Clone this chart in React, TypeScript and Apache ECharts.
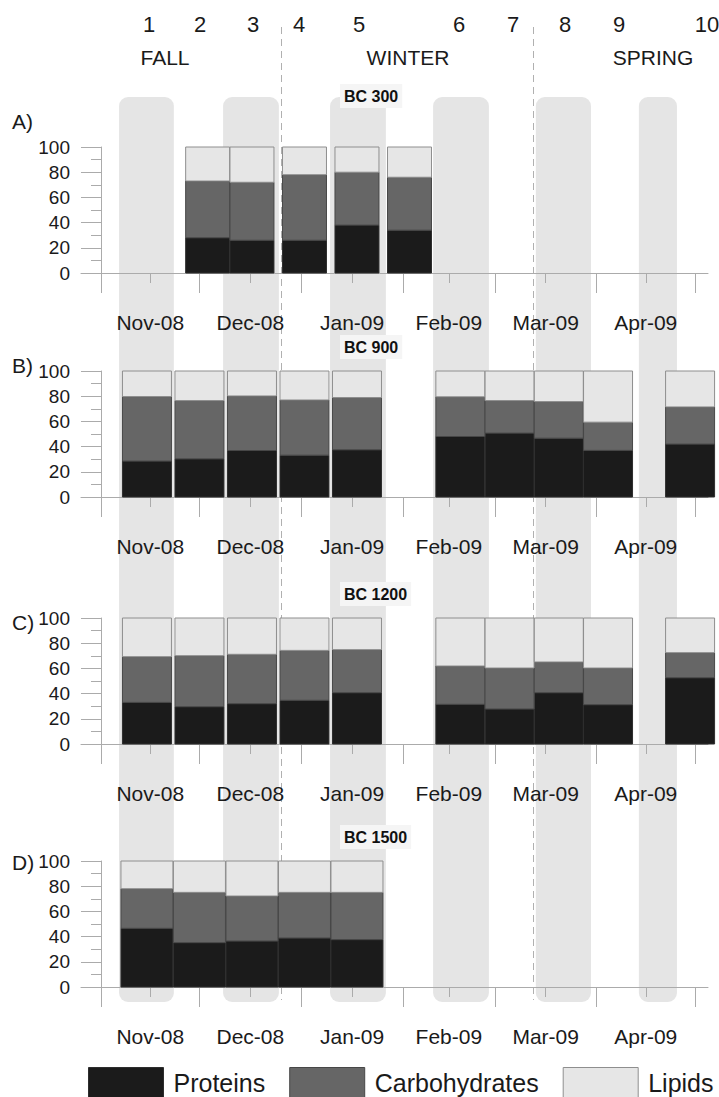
import { useEffect, useRef } from 'react';
import * as echarts from 'echarts';

const FONT = '"Liberation Sans", Arial, Helvetica, sans-serif';

// Sampling days, counted from 1 Nov 2008
const daysBC300 = [32.5, 46, 62, 78, 94];
const daysFull = [14, 30, 46, 62, 78, 109.5, 124.5, 139.5, 154.5, 179.5];
const daysEarly = [14, 30, 46, 62, 78];

// Biochemical composition (% of total)
const bc300Proteins = [28, 26, 26, 38, 34];
const bc300Carbohydrates = [45, 46, 52, 42, 42];
const bc300Lipids = [27, 28, 22, 20, 24];

const bc900Proteins = [28.5, 30.3, 36.9, 33.2, 37.5, 48.0, 50.7, 46.7, 37.0, 42.0];
const bc900Carbohydrates = [51.2, 46.2, 43.3, 43.8, 41.4, 31.5, 25.8, 29.0, 22.4, 29.5];
const bc900Lipids = [20.3, 23.5, 19.8, 23.0, 21.1, 20.5, 23.5, 24.3, 40.6, 28.5];

const bc1200Proteins = [33.0, 29.6, 32.0, 34.7, 40.7, 31.5, 27.8, 40.7, 31.2, 52.6];
const bc1200Carbohydrates = [36.3, 40.5, 39.2, 39.6, 34.2, 30.4, 32.5, 24.4, 29.1, 19.9];
const bc1200Lipids = [30.7, 29.9, 28.8, 25.7, 25.1, 38.1, 39.7, 34.9, 39.7, 27.5];

const bc1500Proteins = [46.6, 35.2, 36.5, 38.9, 37.6];
const bc1500Carbohydrates = [31.4, 39.9, 35.7, 36.2, 37.5];
const bc1500Lipids = [22.0, 24.9, 27.8, 24.9, 24.9];

// Time axis (days from 1 Nov 2008)
const monthStarts = [0, 30, 61, 92, 120, 151, 181];
const monthLabels = ['Nov-08', 'Dec-08', 'Jan-09', 'Feb-09', 'Mar-09', 'Apr-09'];
const sampleNumbers = ['1', '2', '3', '4', '5', '6', '7', '8', '9', '10'];
const seasons = ['FALL', 'WINTER', 'SPRING'];
const shadedPeriods = [
  [5.5, 22.2],
  [37.2, 54.2],
  [69.8, 86.8],
  [101.2, 118.2],
  [132.5, 149.3],
  [163.9, 175.5],
];
const seasonBreaks = [54.8, 131.6];

const monthMids = monthLabels.map((_, i) => (monthStarts[i] + monthStarts[i + 1]) / 2);

const X_MIN = -6.094;
const X_MAX = 184.96;

const components = [
  { name: 'Proteins', color: '#1b1b1b', border: '#2e2e2e' },
  { name: 'Carbohydrates', color: '#666666', border: '#474747' },
  { name: 'Lipids', color: '#e6e6e6', border: '#8e8e8e' },
];

const panels = [
  {
    letter: 'A)', title: 'BC 300', days: daysBC300,
    values: [bc300Proteins, bc300Carbohydrates, bc300Lipids],
    top: 147, titleTop: 84, letterY: 121, barWidth: 44,
  },
  {
    letter: 'B)', title: 'BC 900', days: daysFull,
    values: [bc900Proteins, bc900Carbohydrates, bc900Lipids],
    top: 371, titleTop: 335, letterY: 365, barWidth: 49,
  },
  {
    letter: 'C)', title: 'BC 1200', days: daysFull,
    values: [bc1200Proteins, bc1200Carbohydrates, bc1200Lipids],
    top: 618, titleTop: 582, letterY: 622, barWidth: 49,
  },
  {
    letter: 'D)', title: 'BC 1500', days: daysEarly,
    values: [bc1500Proteins, bc1500Carbohydrates, bc1500Lipids],
    top: 861, titleTop: 825, letterY: 862, barWidth: 52,
  },
];

const AXIS_GRAY = '#ababab';
const TEXT = '#1a1a1a';

// Stacked segment rows: [day, segment bottom, segment top]
function stackedRows(days: number[], values: number[][], k: number) {
  return days.map((d, j) => {
    let base = 0;
    for (let m = 0; m < k; m++) base += values[m][j];
    return [d, base, base + values[k][j]];
  });
}

export default function App() {
  const ref = useRef<HTMLDivElement>(null);

  useEffect(() => {
    document.body.style.margin = '0';
    if (!ref.current) return;
    const chart = echarts.init(ref.current, undefined, { renderer: 'svg' });

    const option: any = {
      animation: false,
      backgroundColor: '#ffffff',
      textStyle: { fontFamily: FONT },
      title: panels.map((p) => ({
        text: p.title,
        left: 340,
        top: p.titleTop,
        padding: [4, 4, 4, 4],
        backgroundColor: '#f5f5f5',
        textStyle: { fontSize: 16, fontWeight: 'bold', color: '#111', fontFamily: FONT },
      })),
      legend: {
        left: 88,
        top: 1067,
        padding: 0,
        itemWidth: 75,
        itemHeight: 30,
        itemGap: 24,
        icon: 'rect',
        selectedMode: false,
        textStyle: { fontSize: 25, color: TEXT, fontFamily: FONT, padding: [0, 0, 0, 5] },
        data: components.map((c) => ({
          name: c.name,
          itemStyle: { color: c.color, borderColor: c.border, borderWidth: 1 },
        })),
      },
      grid: panels.map((p) => ({ left: 81, width: 627, top: p.top, height: 126 })),
      xAxis: panels.flatMap((_, i) => [
        {
          type: 'value', gridIndex: i, min: X_MIN, max: X_MAX, position: 'bottom',
          axisLine: { show: true, lineStyle: { color: AXIS_GRAY, width: 1 } },
          axisTick: { show: true, length: 20, customValues: monthStarts, lineStyle: { color: AXIS_GRAY } },
          axisLabel: { show: false },
          splitLine: { show: false },
        },
        {
          type: 'value', gridIndex: i, min: X_MIN, max: X_MAX, position: 'bottom',
          axisLine: { show: false },
          axisTick: { show: true, length: 10, customValues: monthMids, lineStyle: { color: AXIS_GRAY } },
          axisLabel: {
            show: true,
            customValues: monthMids,
            margin: 39,
            fontSize: 21,
            color: TEXT,
            fontFamily: FONT,
            formatter: (v: number) => {
              const k = monthMids.findIndex((m) => Math.abs(m - v) < 0.01);
              return k >= 0 ? monthLabels[k] : '';
            },
          },
          splitLine: { show: false },
        },
      ]),
      yAxis: panels.map((_, i) => ({
        type: 'value', gridIndex: i, min: 0, max: 100, interval: 20,
        axisLine: { show: true, onZero: true, lineStyle: { color: AXIS_GRAY } },
        axisTick: { show: true, length: 20, lineStyle: { color: AXIS_GRAY } },
        minorTick: { show: true, splitNumber: 2, length: 10, lineStyle: { color: AXIS_GRAY } },
        axisLabel: { margin: 11, fontSize: 19, color: TEXT, fontFamily: FONT },
        splitLine: { show: false },
        minorSplitLine: { show: false },
      })),
      series: panels.flatMap((p, i) =>
        components.map((c, k) => ({
          type: 'custom',
          name: c.name,
          xAxisIndex: 2 * i,
          yAxisIndex: i,
          clip: false,
          silent: true,
          encode: { x: 0, y: [1, 2] },
          itemStyle: { color: c.color, borderColor: c.border, borderWidth: 1 },
          data: stackedRows(p.days, p.values, k),
          renderItem: (_params: any, api: any) => {
            const day = api.value(0);
            const lo = api.coord([day, api.value(1)]);
            const hi = api.coord([day, api.value(2)]);
            const w = p.barWidth;
            return {
              type: 'rect',
              shape: { x: lo[0] - w / 2, y: hi[1], width: w, height: lo[1] - hi[1] },
              style: { fill: c.color, stroke: c.border, lineWidth: 1 },
            };
          },
        }))
      ),
    };

    chart.setOption(option);

    const px = (d: number) => chart.convertToPixel({ xAxisIndex: 0 }, d) as number;

    const graphics: any[] = [];
    shadedPeriods.forEach(([a, b]) => {
      const x0 = px(a);
      const x1 = px(b);
      graphics.push({
        type: 'rect',
        z: -20,
        shape: { x: x0, y: 97, width: x1 - x0, height: 905, r: 9 },
        style: { fill: '#e5e5e5' },
        silent: true,
      });
    });
    seasonBreaks.forEach((d) => {
      const x = Math.round(px(d)) + 0.5;
      graphics.push({
        type: 'line',
        z: -10,
        shape: { x1: x, y1: 27, x2: x, y2: 1000 },
        style: { stroke: '#b0b0b0', lineWidth: 1, lineDash: [7, 5] },
        silent: true,
      });
    });

    const numberX = [149, 200, 253, 299, 359, 459, 513, 565, 619, 707];
    sampleNumbers.forEach((n, i) => {
      graphics.push({
        type: 'text',
        x: numberX[i],
        y: 24,
        style: { text: n, fontSize: 22, fontFamily: FONT, fill: TEXT, align: 'center', verticalAlign: 'middle' },
      });
    });
    const seasonX = [165, 408, 653];
    seasons.forEach((s, i) => {
      graphics.push({
        type: 'text',
        x: seasonX[i],
        y: 57,
        style: { text: s, fontSize: 21, fontFamily: FONT, fill: TEXT, align: 'center', verticalAlign: 'middle' },
      });
    });
    panels.forEach((p) => {
      graphics.push({
        type: 'text',
        x: 12,
        y: p.letterY,
        style: { text: p.letter, fontSize: 21, fontFamily: FONT, fill: TEXT, align: 'left', verticalAlign: 'middle' },
      });
    });

    chart.setOption({ graphic: graphics });

    return () => chart.dispose();
  }, []);

  return <div ref={ref} style={{ width: 719, height: 1097 }} />;
}
